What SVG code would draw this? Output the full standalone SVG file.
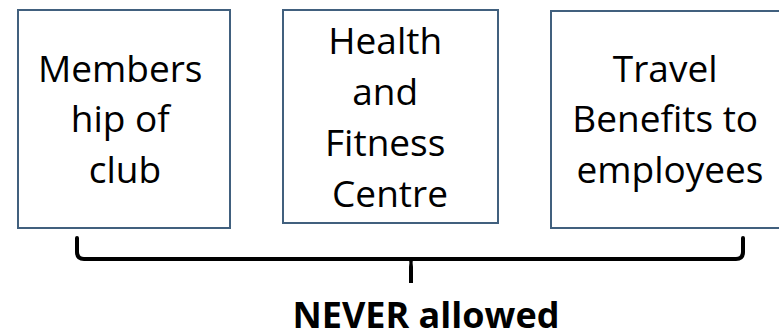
<svg xmlns="http://www.w3.org/2000/svg" width="779" height="334" viewBox="0 0 779 334">
  <style>
    .box { fill: #ffffff; stroke: #41607e; stroke-width: 2; }
    .label { font-family: "Open Sans", "Liberation Sans", sans-serif; font-size: 37px; fill: #000000; text-anchor: middle; }
    .caption { font-family: "Open Sans", "Liberation Sans", sans-serif; font-size: 36px; font-weight: bold; fill: #000000; text-anchor: middle; }
    .brace { fill: none; stroke: #000000; stroke-width: 4; stroke-linejoin: round; stroke-linecap: round; }
  </style>
  <rect x="0" y="0" width="779" height="334" fill="#ffffff"/>

  <g id="node-membership">
    <rect class="box" x="18" y="10" width="212" height="218"/>
    <text class="label" x="125">
      <tspan x="125" y="82">Members</tspan>
      <tspan x="125" y="132">hip of</tspan>
      <tspan x="125" y="183">club</tspan>
    </text>
  </g>

  <g id="node-health">
    <rect class="box" x="283" y="10" width="215" height="213"/>
    <text class="label" x="390">
      <tspan x="390" y="54">Health</tspan>
      <tspan x="390" y="105">and</tspan>
      <tspan x="390" y="156">Fitness</tspan>
      <tspan x="390" y="207">Centre</tspan>
    </text>
  </g>

  <g id="node-travel">
    <rect class="box" x="551" y="11" width="240" height="217"/>
    <text class="label" x="670">
      <tspan x="670" y="82">Travel</tspan>
      <tspan x="670" y="132">Benefits to</tspan>
      <tspan x="670" y="183">employees</tspan>
    </text>
  </g>

  <g id="connectors">
    <path class="brace" d="M77,238 V252 Q77,259 84,259 H736 Q743,259 743,252 V238"/>
    <path d="M404,257 Q411,259 409,267 V283 H413 V267 Q411,259 418,257 Z" fill="#000000"/>
  </g>

  <g id="node-never">
    <text class="caption" x="426" y="328">NEVER allowed</text>
  </g>
</svg>
